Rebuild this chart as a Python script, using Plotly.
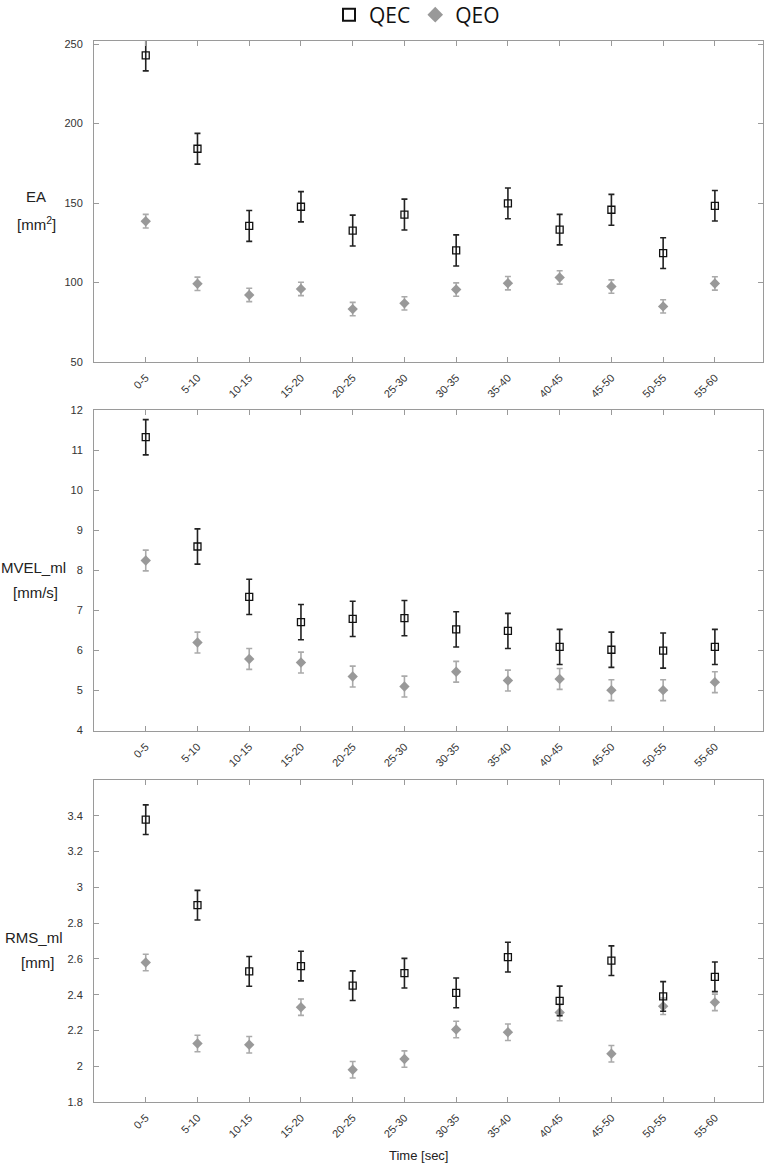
import plotly.graph_objects as go

categories = ["0-5", "5-10", "10-15", "15-20", "20-25", "25-30",
              "30-35", "35-40", "40-45", "45-50", "50-55", "55-60"]

ea_qec = [243.0, 184.2, 135.6, 147.7, 132.7, 142.8, 120.2, 149.8, 133.3, 145.8, 118.5, 148.3]
ea_qec_err = [9.8, 9.7, 9.7, 9.5, 9.7, 9.7, 9.8, 9.7, 9.6, 9.7, 9.7, 9.6]
ea_qeo = [138.6, 99.2, 92.2, 96.0, 83.3, 86.9, 95.6, 99.6, 103.2, 97.5, 85.0, 99.4]
ea_qeo_err = [4.3, 4.2, 4.2, 4.2, 4.2, 4.2, 4.2, 4.2, 4.2, 4.2, 4.2, 4.2]

mvel_qec = [11.32, 8.59, 7.33, 6.70, 6.78, 6.80, 6.52, 6.48, 6.08, 6.01, 5.99, 6.08]
mvel_qec_err = [0.44, 0.44, 0.44, 0.44, 0.44, 0.44, 0.44, 0.44, 0.44, 0.44, 0.44, 0.44]
mvel_qeo = [8.24, 6.19, 5.78, 5.69, 5.34, 5.09, 5.46, 5.24, 5.28, 5.00, 5.00, 5.20]
mvel_qeo_err = [0.26, 0.26, 0.26, 0.26, 0.26, 0.26, 0.26, 0.26, 0.26, 0.26, 0.26, 0.26]

rms_qec = [3.378, 2.90, 2.53, 2.56, 2.45, 2.52, 2.41, 2.61, 2.365, 2.59, 2.39, 2.50]
rms_qec_err = [0.083, 0.083, 0.083, 0.083, 0.083, 0.083, 0.083, 0.083, 0.083, 0.083, 0.083, 0.083]
rms_qeo = [2.58, 2.127, 2.12, 2.33, 1.98, 2.04, 2.205, 2.19, 2.30, 2.07, 2.335, 2.357]
rms_qeo_err = [0.046, 0.046, 0.046, 0.046, 0.046, 0.046, 0.046, 0.046, 0.046, 0.046, 0.046, 0.046]

W, H = 767, 1165
ML, MR, MT, MB = 94, 4, 41, 1165 - 1102
PW, PH = W - ML - MR, H - MT - MB
AXIS = "#9a9a9a"
FAM = "Liberation Sans, Arial, sans-serif"
TICKFONT = dict(family=FAM, size=11, color="#333333")


def fy(px):  # page pixel -> plot-area fraction
    return 1 - (px - MT) / PH


def fx(px):
    return (px - ML) / PW


panels = [
    dict(qec=ea_qec, qece=ea_qec_err, qeo=ea_qeo, qeoe=ea_qeo_err,
         dom=[fy(362), 1.0], rng=[50, 252], tickvals=[50, 100, 150, 200, 250]),
    dict(qec=mvel_qec, qece=mvel_qec_err, qeo=mvel_qeo, qeoe=mvel_qeo_err,
         dom=[fy(731), fy(410)], rng=[3.98, 12], tickvals=[4, 5, 6, 7, 8, 9, 10, 11, 12]),
    dict(qec=rms_qec, qece=rms_qec_err, qeo=rms_qeo, qeoe=rms_qeo_err,
         dom=[0.0, fy(780)], rng=[1.8, 3.6], tickvals=[1.8, 2.0, 2.2, 2.4, 2.6, 2.8, 3.0, 3.2, 3.4]),
]

fig = go.Figure()
for i, p in enumerate(panels):
    n = i + 1
    xa = "x" if n == 1 else f"x{n}"
    ya = "y" if n == 1 else f"y{n}"
    fig.add_trace(go.Scatter(
        x=categories, y=p["qeo"], mode="markers", name="QEO",
        xaxis=xa, yaxis=ya, showlegend=(n == 1),
        marker=dict(symbol="diamond", size=8, color="#999999", line=dict(width=0)),
        error_y=dict(type="data", array=p["qeoe"], color="#aaaaaa", thickness=1.6, width=3),
    ))
    fig.add_trace(go.Scatter(
        x=categories, y=p["qec"], mode="markers", name="QEC",
        xaxis=xa, yaxis=ya, showlegend=(n == 1),
        marker=dict(symbol="square-open", size=7, color="#111111",
                    line=dict(width=1.3, color="#111111")),
        error_y=dict(type="data", array=p["qece"], color="#222222", thickness=1.6, width=3),
    ))
    xkey = "xaxis" if n == 1 else f"xaxis{n}"
    ykey = "yaxis" if n == 1 else f"yaxis{n}"
    fig.update_layout(**{
        xkey: dict(domain=[0, 1], anchor=ya, type="category",
                   categoryorder="array", categoryarray=categories,
                   range=[-1, 11.93], showline=True, linecolor=AXIS, linewidth=1,
                   mirror="ticks", ticks="inside", ticklen=5, tickcolor=AXIS,
                   tickangle=-45, tickfont=TICKFONT, ticklabelstandoff=4,
                   showgrid=False, zeroline=False, automargin=False),
        ykey: dict(domain=p["dom"], anchor=xa, range=p["rng"],
                   tickvals=p["tickvals"], showline=True, linecolor=AXIS, linewidth=1,
                   mirror="ticks", ticks="inside", ticklen=5, tickcolor=AXIS,
                   tickfont=TICKFONT, ticklabelstandoff=8,
                   showgrid=False, zeroline=False, automargin=False),
    })

LABFONT = dict(family=FAM, size=15, color="#222222")
labels = [
    ("EA", 36, 197), ("[mm<sup>2</sup>]", 36, 223),
    ("MVEL_ml", 33, 567), ("[mm/s]", 35, 592),
    ("RMS_ml", 34, 937), ("[mm]", 37, 962),
]
for text, xpx, ypx in labels:
    fig.add_annotation(text=text, x=fx(xpx), y=fy(ypx), xref="paper", yref="paper",
                       showarrow=False, font=LABFONT, align="center",
                       xanchor="center", yanchor="middle")

fig.add_annotation(text="Time [sec]", x=fx(418), y=fy(1155), xref="paper", yref="paper",
                   showarrow=False, font=dict(family=FAM, size=13, color="#222222"),
                   xanchor="center", yanchor="middle")

fig.update_layout(
    width=W, height=H,
    margin=dict(l=ML, r=MR, t=MT, b=MB, autoexpand=False),
    paper_bgcolor="white", plot_bgcolor="white",
    legend=dict(orientation="h", x=fx(417), y=fy(15), xanchor="center", yanchor="middle",
                traceorder="reversed", itemsizing="constant",
                font=dict(family="Open Sans, sans-serif", size=21, color="#111111"),
                bgcolor="rgba(0,0,0,0)"),
)

fig.write_html("out.html", config={"displayModeBar": False},
               post_script="document.body.style.margin='0px';document.body.style.overflow='hidden';")
